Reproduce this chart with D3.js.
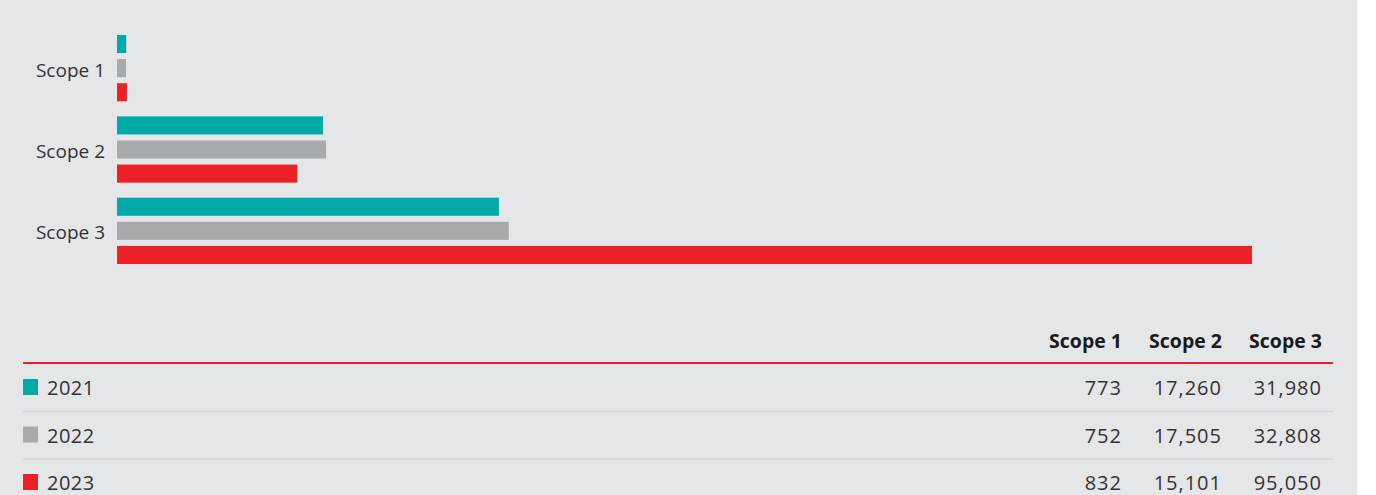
<!DOCTYPE html>
<html>
<head>
<meta charset="utf-8">
<script src="https://cdn.jsdelivr.net/npm/d3@7"></script>
<style>
  body { margin: 0; background: #fff; }
  text { font-family: "Open Sans", "Noto Sans", sans-serif; }
</style>
</head>
<body>
<svg id="chart"></svg>
<script>
var scopes = ["Scope 1", "Scope 2", "Scope 3"];
var years = ["2021", "2022", "2023"];
var values2021 = [773, 17260, 31980];
var values2022 = [752, 17505, 32808];
var values2023 = [832, 15101, 95050];
var yearColors = ["#00aaa9", "#a8a9ab", "#ed1f27"];

var series = [values2021, values2022, values2023];

var svgWidth = 1376, svgHeight = 495;
var svg = d3.select("#chart")
    .attr("width", svgWidth)
    .attr("height", svgHeight);

// grey panel
svg.append("rect")
    .attr("x", 0).attr("y", 0)
    .attr("width", 1357).attr("height", svgHeight)
    .attr("fill", "#e5e6e8");

var x = d3.scaleLinear()
    .domain([0, 95050])
    .range([117, 1252]);

var y0 = d3.scaleBand()
    .domain(scopes)
    .range([35, 264])
    .paddingInner(15 / 81);

var y1 = d3.scaleBand()
    .domain(years)
    .range([0, y0.bandwidth()])
    .paddingInner(0.25);

var color = d3.scaleOrdinal().domain(years).range(yearColors);

var group = svg.selectAll("g.scope")
    .data(scopes)
    .enter()
    .append("g")
    .attr("class", "scope")
    .attr("transform", function(d) { return "translate(0," + y0(d) + ")"; });

group.selectAll("rect")
    .data(function(d, i) {
        return years.map(function(yr, j) { return {year: yr, value: series[j][i]}; });
    })
    .enter()
    .append("rect")
    .attr("x", x(0))
    .attr("y", function(d) { return y1(d.year); })
    .attr("width", function(d) { return x(d.value) - x(0); })
    .attr("height", y1.bandwidth())
    .attr("fill", function(d) { return color(d.year); });

group.append("text")
    .attr("x", 105)
    .attr("y", y0.bandwidth() / 2 + 2)
    .attr("dy", "0.35em")
    .attr("text-anchor", "end")
    .attr("font-size", 19)
    .attr("fill", "#333")
    .text(function(d) { return d; });

// table
var col = d3.scalePoint()
    .domain(scopes)
    .range([1122, 1322]);

var row = d3.scaleBand()
    .domain(years)
    .range([364, 364 + 47.5 * 3]);

var fmt = d3.format(",");

svg.selectAll("text.head")
    .data(scopes)
    .enter()
    .append("text")
    .attr("class", "head")
    .attr("x", function(d) { return col(d); })
    .attr("y", 348)
    .attr("text-anchor", "end")
    .attr("font-size", 19.5)
    .attr("font-weight", "bold")
    .attr("fill", "#1a1a1a")
    .text(function(d) { return d; });

svg.append("line")
    .attr("x1", 23).attr("x2", 1333)
    .attr("y1", 363).attr("y2", 363)
    .attr("stroke", "#ed1f27")
    .attr("stroke-width", 2);

var rows = svg.selectAll("g.row")
    .data(years)
    .enter()
    .append("g")
    .attr("class", "row")
    .attr("transform", function(d) { return "translate(0," + row(d) + ")"; });

rows.filter(function(d, i) { return i < years.length - 1; })
    .append("line")
    .attr("x1", 23).attr("x2", 1333)
    .attr("y1", row.bandwidth()).attr("y2", row.bandwidth())
    .attr("stroke", "#d2d3d5")
    .attr("stroke-width", 1.5);

rows.append("rect")
    .attr("x", 23)
    .attr("y", 15)
    .attr("width", 15)
    .attr("height", 16)
    .attr("fill", function(d) { return color(d); });

rows.append("text")
    .attr("x", 47)
    .attr("y", 31)
    .attr("font-size", 20)
    .attr("letter-spacing", 0.5)
    .attr("fill", "#333")
    .text(function(d) { return d; });

rows.selectAll("text.val")
    .data(function(d, j) {
        return scopes.map(function(s, i) { return {scope: s, value: series[j][i]}; });
    })
    .enter()
    .append("text")
    .attr("class", "val")
    .attr("x", function(d) { return col(d.scope); })
    .attr("y", 31)
    .attr("text-anchor", "end")
    .attr("font-size", 20)
    .attr("letter-spacing", 1)
    .attr("fill", "#333")
    .text(function(d) { return fmt(d.value); });
</script>
</body>
</html>
